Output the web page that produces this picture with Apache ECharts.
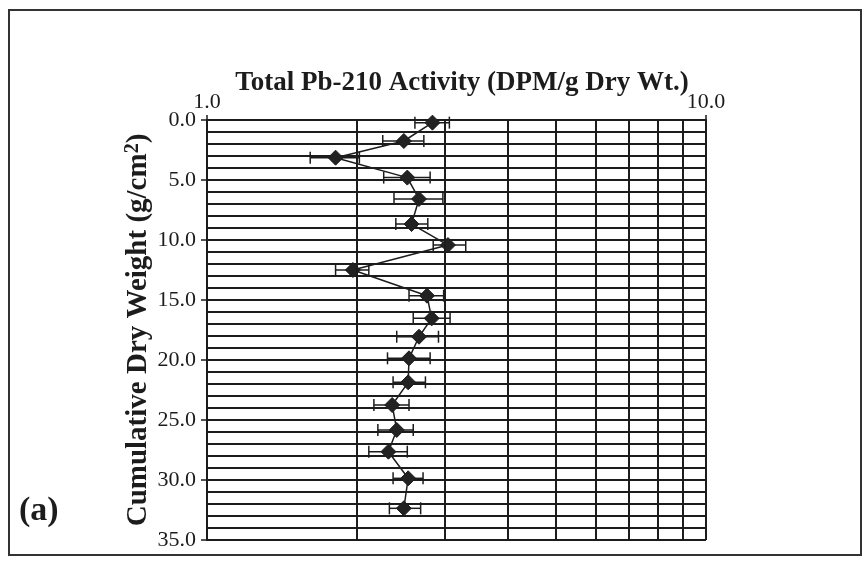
<!DOCTYPE html>
<html>
<head>
<meta charset="utf-8">
<script src="https://cdn.jsdelivr.net/npm/echarts@6/dist/echarts.min.js"></script>
<style>
html,body{margin:0;padding:0;background:#fff;}
#main{width:864px;height:564px;}
</style>
</head>
<body>
<div id="main"></div>
<script>
// Data
var depth    = [0.22, 1.75, 3.14, 4.8, 6.58, 8.67, 10.42, 12.5, 14.64, 16.53, 18.06, 19.86, 21.86, 23.75, 25.83, 27.64, 29.86, 32.36];
var activity = [2.83, 2.48, 1.81, 2.52, 2.66, 2.57, 3.04, 1.96, 2.76, 2.82, 2.66, 2.54, 2.53, 2.35, 2.40, 2.31, 2.53, 2.48];
var errLow   = [2.61, 2.25, 1.61, 2.26, 2.37, 2.39, 2.84, 1.81, 2.54, 2.59, 2.40, 2.30, 2.36, 2.16, 2.20, 2.11, 2.36, 2.32];
var errHigh  = [3.06, 2.72, 2.02, 2.80, 2.97, 2.77, 3.30, 2.11, 2.98, 3.07, 2.91, 2.80, 2.74, 2.54, 2.59, 2.52, 2.71, 2.68];
var xGridValues = [2, 3, 4, 5, 6, 7, 8, 9, 10];

var INK = '#1c1c1c';
var FONT = '"Liberation Serif", "Times New Roman", serif';

var points = depth.map(function (d, i) { return [activity[i], d]; });
var errData = depth.map(function (d, i) { return [errLow[i], errHigh[i], d]; });

var chart = echarts.init(document.getElementById('main'));
chart.setOption({
  backgroundColor: '#fff',
  animation: false,
  title: {
    text: 'Total Pb-210 Activity (DPM/g Dry Wt.)',
    left: 457, top: 65, textAlign: 'center',
    textStyle: { fontFamily: FONT, fontWeight: 'bold', fontSize: 27, color: INK }
  },
  graphic: [
    { type: 'rect', shape: { x: 9, y: 10, width: 852, height: 545 },
      style: { fill: 'none', stroke: '#333', lineWidth: 2 }, silent: true },
    { type: 'text', left: 19, top: 494,
      style: { text: '(a)', font: 'bold 34px ' + FONT, fill: INK } }
  ],
  grid: { left: 207, top: 120, width: 499, height: 420, show: false },
  xAxis: {
    type: 'log', logBase: 10, min: 1, max: 10, position: 'top',
    axisLine: { show: true, lineStyle: { color: INK, width: 2 } },
    axisTick: { show: true, inside: false, length: 5, lineStyle: { color: INK, width: 1.5 } },
    axisLabel: { show: true, margin: 7, fontFamily: FONT, fontSize: 22, color: INK,
      formatter: function (v) { return Number(v).toFixed(1); } },
    splitLine: { show: true, lineStyle: { color: INK, width: 2 } }
  },
  yAxis: {
    type: 'value', inverse: true, min: 0, max: 35, interval: 5,
    name: 'Cumulative Dry Weight (g/cm{sup|2})', nameLocation: 'middle', nameGap: 52, nameRotate: 90,
    nameMoveOverlap: false,
    nameTextStyle: { fontFamily: FONT, fontWeight: 'bold', fontSize: 29, color: INK,
      rich: { sup: { fontFamily: FONT, fontWeight: 'bold', fontSize: 20, color: INK, verticalAlign: 'top', padding: [0, 0, 12, 0] } } },
    axisLine: { show: true, lineStyle: { color: INK, width: 2 } },
    axisTick: { show: true, inside: false, length: 6, lineStyle: { color: INK, width: 1.5 } },
    axisLabel: { margin: 11, fontFamily: FONT, fontSize: 22, color: INK,
      formatter: function (v) { return Number(v).toFixed(1); } },
    splitLine: { show: true, lineStyle: { color: INK, width: 2 } },
    minorTick: { show: false, splitNumber: 5 },
    minorSplitLine: { show: true, lineStyle: { color: INK, width: 2 } }
  },
  series: [
    {
      type: 'custom',
      data: errData,
      z: 3,
      renderItem: function (params, api) {
        var y = api.value(2);
        var a = api.coord([api.value(0), y]);
        var b = api.coord([api.value(1), y]);
        var h = 6;
        var st = { stroke: INK, lineWidth: 1.5 };
        return {
          type: 'group',
          children: [
            { type: 'line', shape: { x1: a[0], y1: a[1], x2: b[0], y2: b[1] }, style: st },
            { type: 'line', shape: { x1: a[0], y1: a[1] - h, x2: a[0], y2: a[1] + h }, style: st },
            { type: 'line', shape: { x1: b[0], y1: b[1] - h, x2: b[0], y2: b[1] + h }, style: st }
          ]
        };
      },
      encode: { x: [0, 1], y: 2 }
    },
    {
      type: 'line',
      data: points,
      z: 4,
      symbol: 'diamond',
      symbolSize: 15,
      itemStyle: { color: '#222', borderColor: INK, borderWidth: 1 },
      lineStyle: { color: INK, width: 1.5 },
      markLine: {
        silent: true, symbol: 'none', animation: false,
        label: { show: false },
        lineStyle: { color: INK, width: 2, type: 'solid' },
        data: xGridValues.map(function (v) { return { xAxis: v }; })
      }
    }
  ]
});
</script>
</body>
</html>
